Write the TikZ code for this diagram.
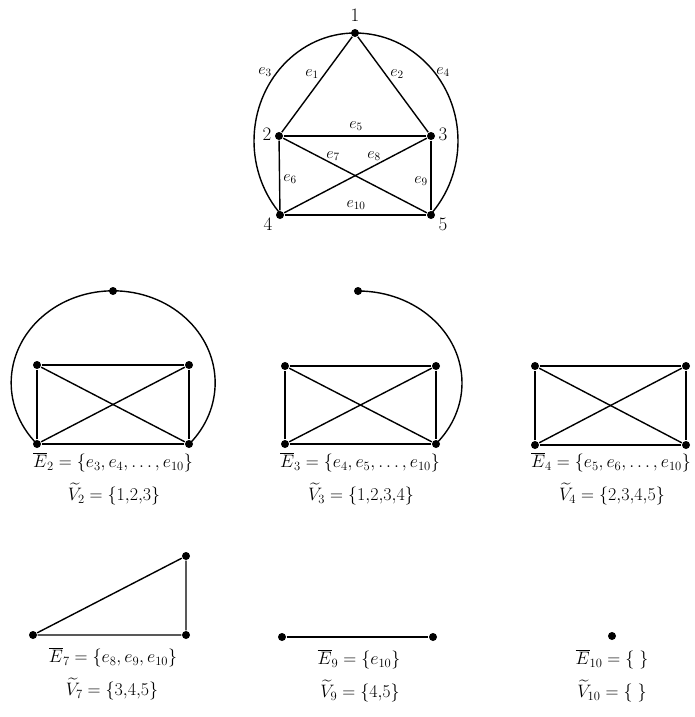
\RequirePackage{fix-cm}
\documentclass[tikz,border=0pt]{standalone}
\usepackage{amsmath}
\begin{document}
\begin{tikzpicture}[x=1pt,y=-1pt,line width=1.4pt,
  vtx/.style={circle,fill,inner sep=0pt,minimum size=8pt},
  vlbl/.style={font=\fontsize{19}{22}\selectfont,inner sep=0pt},
  elbl/.style={font=\fontsize{16}{19}\selectfont,inner sep=0pt},
  setlbl/.style={font=\fontsize{18}{21}\selectfont,inner sep=0pt}]
\useasboundingbox (0,0) rectangle (694,717);

% ---- top graph
\node[vtx] (v1) at (355,33) {};
\node[vtx] (v2) at (279,136) {};
\node[vtx] (v3) at (431,136) {};
\node[vtx] (v4) at (280,215) {};
\node[vtx] (v5) at (431,215) {};
\draw (v1) -- (v2);
\draw (v1) -- (v3);
\draw (v2) -- (v3);
\draw (v2) -- (v4);
\draw (v2) -- (v5);
\draw (v3) -- (v4);
\draw (v3) -- (v5);
\draw (v4) -- (v5);
\draw (v1.center) arc[start angle=-90,end angle=-223,x radius=101,y radius=108];
\draw (v1.center) arc[start angle=-90,end angle=43,x radius=103,y radius=108];
\node[vlbl] (n1) at (355,15) {1};
\node[vlbl] (n2) at (267,134) {2};
\node[vlbl] (n3) at (443,134) {3};
\node[vlbl] (n4) at (268,224) {4};
\node[vlbl] (n5) at (443,224) {5};
\node[elbl] (le1) at (312,74) {$e_1$};
\node[elbl] (le2) at (397,74) {$e_2$};
\node[elbl] (le3) at (265,72) {$e_3$};
\node[elbl] (le4) at (443,72) {$e_4$};
\node[elbl] (le5) at (356,126) {$e_5$};
\node[elbl] (le6) at (290,179) {$e_6$};
\node[elbl] (le7) at (333,156) {$e_7$};
\node[elbl] (le8) at (374,156) {$e_8$};
\node[elbl] (le9) at (421,181) {$e_9$};
\node[elbl] (le10) at (356,205) {$e_{10}$};

% ---- middle left
\node[vtx] (a0) at (113,291) {};
\node[vtx] (a1) at (37,365) {};
\node[vtx] (a2) at (189,365) {};
\node[vtx] (a3) at (37,444) {};
\node[vtx] (a4) at (189,444) {};
\draw (a1) -- (a2) -- (a4) -- (a3) -- (a1);
\draw (a1) -- (a4);
\draw (a2) -- (a3);
\draw (a3.center) arc[start angle=138.3,end angle=401.7,x radius=102,y radius=92];
\node[setlbl] (E2) at (113,462) {$\overline{E}_2=\{e_3,e_4,\ldots,e_{10}\}$};
\node[setlbl] (V2) at (114,494) {$\widetilde{V}_2=\{1{,}2{,}3\}$};

% ---- middle centre
\node[vtx] (b0) at (358,291) {};
\node[vtx] (b1) at (285,366) {};
\node[vtx] (b2) at (436,366) {};
\node[vtx] (b3) at (285,444) {};
\node[vtx] (b4) at (436,444) {};
\draw (b1) -- (b2) -- (b4) -- (b3) -- (b1);
\draw (b1) -- (b4);
\draw (b2) -- (b3);
\draw (b0.center) arc[start angle=270,end angle=401.5,x radius=104,y radius=92];
\node[setlbl] (E3) at (360,462) {$\overline{E}_3=\{e_4,e_5,\ldots,e_{10}\}$};
\node[setlbl] (V3) at (361,494) {$\widetilde{V}_3=\{1{,}2{,}3{,}4\}$};

% ---- middle right
\node[vtx] (c1) at (535,366) {};
\node[vtx] (c2) at (686,366) {};
\node[vtx] (c3) at (535,445) {};
\node[vtx] (c4) at (686,445) {};
\draw (c1) -- (c2) -- (c4) -- (c3) -- (c1);
\draw (c1) -- (c4);
\draw (c2) -- (c3);
\node[setlbl] (E4) at (611,462) {$\overline{E}_4=\{e_5,e_6,\ldots,e_{10}\}$};
\node[setlbl] (V4) at (612,494) {$\widetilde{V}_4=\{2{,}3{,}4{,}5\}$};

% ---- bottom left
\node[vtx] (d1) at (33,635) {};
\node[vtx] (d2) at (186,556) {};
\node[vtx] (d3) at (186,635) {};
\draw (d1) -- (d2) -- (d3) -- (d1);
\node[setlbl] (E7) at (113,657) {$\overline{E}_7=\{e_8,e_9,e_{10}\}$};
\node[setlbl] (V7) at (112,689) {$\widetilde{V}_7=\{3{,}4{,}5\}$};

% ---- bottom centre
\node[vtx] (f1) at (282,637) {};
\node[vtx] (f2) at (433,637) {};
\draw (f1) -- (f2);
\node[setlbl] (E9) at (359,659) {$\overline{E}_9=\{e_{10}\}$};
\node[setlbl] (V9) at (360,691) {$\widetilde{V}_9=\{4{,}5\}$};

% ---- bottom right
\node[vtx] (g1) at (612,636) {};
\node[setlbl] (E10) at (612,659) {$\overline{E}_{10}=\{\;\}$};
\node[setlbl] (V10) at (612,691) {$\widetilde{V}_{10}=\{\;\}$};
\end{tikzpicture}
\end{document}
